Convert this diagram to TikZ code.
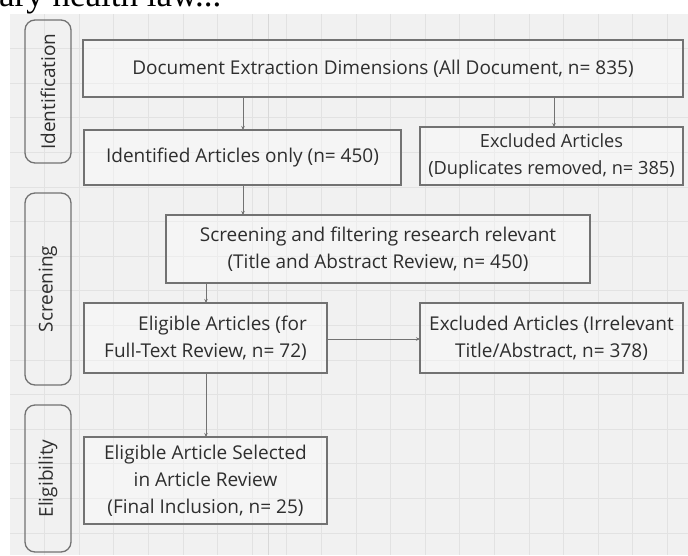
\documentclass[tikz,border=0pt]{standalone}
\usepackage{fontspec}
\setmainfont{Open Sans}
\newfontfamily\capserif{Liberation Serif}
\usetikzlibrary{arrows.meta}
\definecolor{panel}{HTML}{F1F1F1}
\definecolor{gridc}{HTML}{E2E2E2}
\definecolor{gridd}{HTML}{D8D8D8}
\definecolor{boxline}{HTML}{727272}
\definecolor{txt}{HTML}{2E2E2E}
\tikzset{
  flowbox/.style={draw=boxline, line width=1.4pt, fill=white, fill opacity=0.35, text opacity=1,
    inner sep=0pt, outer sep=0pt, align=center, text=txt,
    font=\fontsize{19}{27}\selectfont},
  sidebox/.style={draw=boxline, line width=1.3pt, rounded corners=10pt, rotate=90,
    inner sep=0pt, outer sep=0pt, text=txt, font=\fontsize{19}{27}\selectfont},
  arr/.style={draw=boxline, line width=1pt, -{Stealth[length=4pt,width=3.5pt]}}
}
\begin{document}
\begin{tikzpicture}[x=1pt,y=-1pt]
\useasboundingbox (0,0) rectangle (688,555);
\clip (0,0) rectangle (688,555);
% background panel and grid
\fill[panel] (10,14) rectangle (688,555);
\foreach \i in {1,...,19} \draw[gridc, line width=0.8pt] (10+34.6*\i,14) -- (10+34.6*\i,555);
\foreach \j in {1,...,16} \draw[gridc, line width=0.8pt] (10,14+34.6*\j) -- (688,14+34.6*\j);
\draw[gridd, line width=0.9pt] (268,14) -- (268,555);
% cut caption text above
\node[anchor=base west, inner sep=0pt, font=\capserif\fontsize{35}{35}\selectfont] (cap) at (-1,6) {ary health law...};
% side labels
\node[sidebox, minimum width=143pt, minimum height=46pt] (s1) at (48,91.5) {Identification};
\node[sidebox, minimum width=192pt, minimum height=46pt] (s2) at (48,289) {Screening};
\node[sidebox, minimum width=147pt, minimum height=46pt] (s3) at (48,478.5) {Eligibility};
% boxes
\node[flowbox, minimum width=600pt, minimum height=57pt] (b1) at (383,68.5)
  {Document Extraction Dimensions (All Document, n= 835)};
\node[flowbox, minimum width=317pt, minimum height=55pt] (b2) at (242.5,157.5)
  {Identified Articles only (n= 450)};
\node[flowbox, minimum width=263pt, minimum height=58pt, font=\fontsize{18.2}{27}\selectfont] (b3) at (551.5,156)
  {Excluded Articles\\(Duplicates removed, n= 385)};
\node[flowbox, minimum width=424pt, minimum height=68pt] (b4) at (378,249)
  {Screening and filtering research relevant\\(Title and Abstract Review, n= 450)};
\node[flowbox, minimum width=243pt, minimum height=70pt, align=right] (b5) at (205.5,338)
  {Eligible Articles (for\\Full-Text Review, n= 72)};
\node[flowbox, minimum width=263pt, minimum height=70pt] (b7) at (551.5,338)
  {Excluded Articles (Irrelevant\\Title/Abstract, n= 378)};
\node[flowbox, minimum width=243pt, minimum height=87pt] (b6) at (205.5,480.5)
  {Eligible Article Selected\\in Article Review\\(Final Inclusion, n= 25)};
% connectors
\coordinate (xa) at (243,0);
\coordinate (xb) at (554,0);
\coordinate (xc) at (206,0);
\coordinate (ya) at (0,339);
\draw[arr] (xa |- b1.south) -- (xa |- b2.north);
\draw[arr] (xb |- b1.south) -- (xb |- b3.north);
\draw[arr] (xa |- b2.south) -- (xa |- b4.north);
\draw[arr] (xc |- b4.south) -- (xc |- b5.north);
\draw[arr] (xc |- b5.south) -- (xc |- b6.north);
\draw[arr] (b5.east |- ya) -- (b7.west |- ya);
\end{tikzpicture}
\end{document}
